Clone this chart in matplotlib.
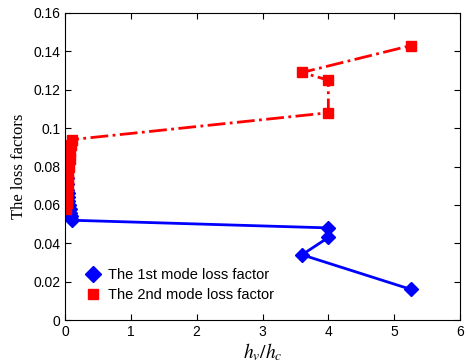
import matplotlib
matplotlib.use("Agg")
import matplotlib.pyplot as plt
from matplotlib.lines import Line2D

# thickness ratio hv/hc
ratio = [0.02, 0.025, 0.03, 0.035, 0.04, 0.045, 0.05, 0.06, 0.07, 0.08, 0.09, 0.1,
         4.0, 4.0, 3.6, 5.25]
# loss factors of the two modes
loss1 = [0.077, 0.074, 0.071, 0.068, 0.066, 0.064, 0.062, 0.060, 0.058, 0.056, 0.054, 0.052,
         0.048, 0.043, 0.034, 0.016]
loss2 = [0.058, 0.061, 0.064, 0.067, 0.070, 0.073, 0.076, 0.080, 0.084, 0.088, 0.091, 0.094,
         0.108, 0.125, 0.129, 0.143]
labels = ['The 1st mode loss factor', 'The 2nd mode loss factor']

plt.rcParams['font.family'] = ['Liberation Sans', 'DejaVu Sans']
plt.rcParams['mathtext.fontset'] = 'stix'

fig = plt.figure(figsize=(4.68, 3.64), dpi=100)
ax = fig.add_axes([65/468, 1 - 320/364, 395/468, 307/364])

ax.plot(ratio, loss1, color='blue', linestyle='-', linewidth=2,
        marker='D', markersize=7)
ax.plot(ratio, loss2, color='red', linestyle='-.', linewidth=2,
        marker='s', markersize=6.5)

ax.set_xlim(0, 6)
ax.set_ylim(0, 0.16)
ax.set_xticks([0, 1, 2, 3, 4, 5, 6])
ax.set_yticks([0, 0.02, 0.04, 0.06, 0.08, 0.1, 0.12, 0.14, 0.16])
ax.set_yticklabels(['0', '0.02', '0.04', '0.06', '0.08', '0.1', '0.12', '0.14', '0.16'])
ax.tick_params(direction='in', top=True, right=True, labelsize=10, length=4)

ax.set_xlabel('$h_v/h_c$', fontsize=14, labelpad=2)
ax.set_ylabel('The loss factors', fontsize=12, family='Liberation Serif')

# legend shows markers only
handles = [Line2D([], [], color='blue', linestyle='none', marker='D', markersize=8),
           Line2D([], [], color='red', linestyle='none', marker='s', markersize=7)]
ax.legend(handles, labels, loc='lower left', bbox_to_anchor=(0.02, 0.015), frameon=False,
          fontsize=10.5, handlelength=1.0, handletextpad=0.5, labelspacing=0.45)

fig.savefig('out.png', dpi=100)
